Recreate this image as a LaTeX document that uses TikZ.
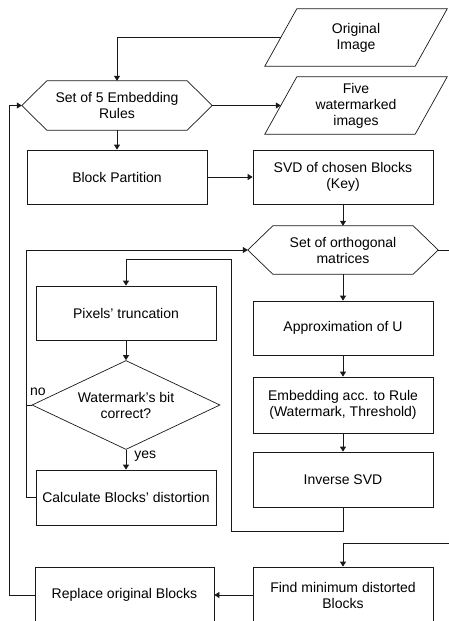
\documentclass[tikz,border=0pt]{standalone}
\usepackage{fontspec}
\setmainfont{Liberation Sans}
\usetikzlibrary{arrows.meta,shapes.geometric,calc}

% outlines of the hexagonal and slanted (input/output) boxes
\newcommand\hexoutline[1]{%
  \draw[ln] (#1.west) -- ([xshift=25pt]#1.north west) -- ([xshift=-25pt]#1.north east)
    -- (#1.east) -- ([xshift=-25pt]#1.south east) -- ([xshift=25pt]#1.south west) -- cycle;}
\newcommand\ioutline[1]{%
  \draw[ln] ([xshift=32pt]#1.north west) -- (#1.north east)
    -- ([xshift=-32pt]#1.south east) -- (#1.south west) -- cycle;
  \coordinate (#1-l) at ($(#1.south west)!0.5!([xshift=32pt]#1.north west)$);}

\tikzset{
  lbl/.style={font=\fontsize{14pt}{16pt}\selectfont, align=center},
  ln/.style={draw=black!90, line width=0.7pt},
  stepbox/.style={lbl, ln, rectangle, minimum width=180pt, minimum height=54pt, inner sep=0pt},
  shapebox/.style={lbl, rectangle, inner sep=0pt},
  decide/.style={lbl, ln, diamond, aspect=2.1, minimum width=188pt, minimum height=89pt, inner sep=0pt},
  arr/.style={ln, -{Triangle[length=5pt,width=6pt]}},
  tag/.style={font=\fontsize{14pt}{16pt}\selectfont, inner sep=0pt},
}

\begin{document}
\begin{tikzpicture}[x=1pt,y=-1pt]
\useasboundingbox (0,0) rectangle (449,621);
\clip (0,0) rectangle (449,621);

% input and output
\node[shapebox, minimum width=182pt, minimum height=57pt] (oi) at (356,37.5) {Original\\Image};
\ioutline{oi}
\node[shapebox, minimum width=182pt, minimum height=57pt] (fw) at (356,105.5) {Five\\watermarked\\images};
\ioutline{fw}

% rule selection
\node[shapebox, minimum width=190pt, minimum height=49pt] (h1) at (117,105.5) {Set of 5 Embedding\\Rules};
\hexoutline{h1}

\node[stepbox] (bp) at (117,177) {Block Partition};
\node[stepbox] (svd) at (343,177) {SVD of chosen Blocks\\(Key)};

\node[shapebox, minimum width=190pt, minimum height=48pt] (h2) at (343,250) {Set of orthogonal\\matrices};
\hexoutline{h2}

% embedding chain
\node[stepbox] (apx) at (343,328) {Approximation of U};
\node[stepbox, minimum height=56pt] (emb) at (343,405) {Embedding acc. to Rule\\(Watermark, Threshold)};
\node[stepbox, minimum height=55pt] (inv) at (343,479.5) {Inverse SVD};

% checking chain
\node[stepbox] (pt) at (126,313) {Pixels’ truncation};
\node[decide] (dia) at (126,405) {Watermark’s bit\\correct?};
\node[stepbox, minimum height=55pt] (cbd) at (126,497.5) {Calculate Blocks’ distortion};

% final selection
\node[stepbox, minimum height=56pt] (fmd) at (343,595) {Find minimum distorted\\Blocks};
\node[stepbox, minimum width=179pt, minimum height=56pt] (rob) at (124.5,595) {Replace original Blocks};

% free ends at the right border
\coordinate (eA) at (449,250);
\coordinate (eB) at (449,543);

% connectors
\draw[arr] (oi-l) -| (h1.north);
\draw[arr] (h1.east) -- (fw-l);
\draw[arr] (h1.south) -- (bp.north);
\draw[arr] (bp.east) -- (svd.west);
\draw[arr] (svd.south) -- (h2.north);
\draw[ln] (h2.east) -- (eA);
\draw[arr] (h2.south) -- (apx.north);
\draw[arr] (apx.south) -- (emb.north);
\draw[arr] (emb.south) -- (inv.north);
\draw[arr] (inv.south) -- ++(0,24) -| (231,259) -| (pt.north);
\draw[arr] (pt.south) -- (dia.north);
\draw[arr] (dia.south) -- node[tag, right=8pt, pos=0.3] {yes} (cbd.north);
\draw[ln] (dia.west) -- (26,405);
\node[tag] (no) at (38,392) {no};
\draw[arr] (cbd.west) -- (26,497.5) -- (26,250) -- (h2.west);
\draw[arr] (eB) -| (fmd.north);
\draw[arr] (fmd.west) -- (rob.east);
\draw[arr] (rob.west) -- (9,595) |- (h1.west);
\end{tikzpicture}
\end{document}
